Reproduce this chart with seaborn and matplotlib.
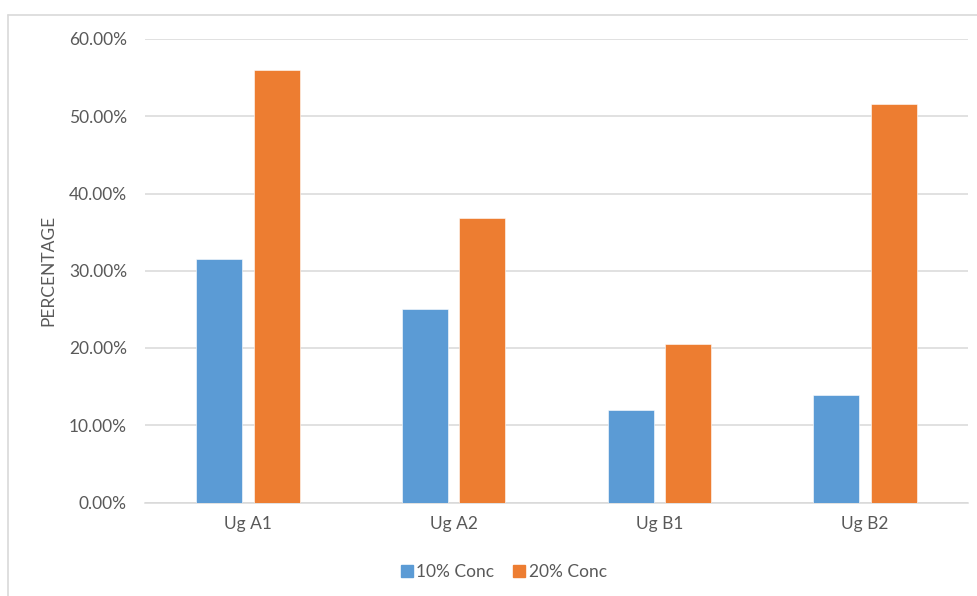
import matplotlib
matplotlib.use("Agg")
import matplotlib.pyplot as plt
from matplotlib.ticker import FuncFormatter, MultipleLocator
from matplotlib.lines import Line2D
import seaborn as sns
import pandas as pd

# Sample groups and measured percentages per concentration
categories = ["Ug A1", "Ug A2", "Ug B1", "Ug B2"]
series = ["10% Conc", "20% Conc"]
conc_10 = [0.3155, 0.2505, 0.1195, 0.1395]
conc_20 = [0.5595, 0.3680, 0.2055, 0.5160]
colors = ["#5B9BD5", "#ED7D31"]

df = pd.DataFrame({
    "Sample": categories * 2,
    "Series": [series[0]] * len(categories) + [series[1]] * len(categories),
    "Value": conc_10 + conc_20,
})

sns.set_theme(style="white")
plt.rcParams["font.family"] = ["Lato", "DejaVu Sans"]

fig = plt.figure(figsize=(9.78, 5.96), dpi=100)
ax = fig.add_axes([145 / 978, 1 - 502.5 / 596, (968 - 145) / 978, (502.5 - 39) / 596])

sns.barplot(data=df, x="Sample", y="Value", hue="Series", palette=colors,
            width=0.56, gap=0.2, ax=ax, errorbar=None, saturation=1,
            edgecolor="white", linewidth=0.4, zorder=3)

ax.set_xlim(-0.5, 3.5)
ax.set_ylim(0, 0.6)
ax.yaxis.set_major_locator(MultipleLocator(0.1))
ax.yaxis.set_major_formatter(FuncFormatter(lambda v, _: f"{v * 100:.2f}%"))
ax.grid(axis="y", color="#D9D9D9", linewidth=1.1, zorder=0)
ax.grid(axis="x", visible=False)
ax.set_axisbelow(True)
for side in ["top", "right", "left"]:
    ax.spines[side].set_visible(False)
ax.spines["bottom"].set_color("#D9D9D9")
ax.spines["bottom"].set_linewidth(1.1)
ax.tick_params(axis="both", length=0, labelsize=12.5, labelcolor="#595959")
ax.tick_params(axis="y", pad=13)
ax.tick_params(axis="x", pad=10)
ax.set_xlabel("")
ax.set_ylabel("PERCENTAGE", fontsize=12.5, color="#595959", labelpad=9)

leg = ax.get_legend()
if leg is not None:
    leg.remove()
handles = [Line2D([0], [0], marker="s", linestyle="", markersize=8.5,
                  markerfacecolor=c, markeredgecolor=c) for c in colors]
fig.legend(handles, series, loc="center", bbox_to_anchor=(503 / 978, 1 - 572 / 596),
           ncol=2, frameon=False, fontsize=12.5, labelcolor="#595959",
           handletextpad=0.1, columnspacing=1.0, handlelength=0.9)

# Light chart-area border along the top and left edges
fig.add_artist(Line2D([8 / 978, 8 / 978], [0, 1 - 15 / 596], color="#D9D9D9",
                      linewidth=1.2, transform=fig.transFigure))
fig.add_artist(Line2D([8 / 978, 1], [1 - 15 / 596, 1 - 15 / 596], color="#D9D9D9",
                      linewidth=1.2, transform=fig.transFigure))

fig.savefig("out.png", dpi=100, facecolor="white")
